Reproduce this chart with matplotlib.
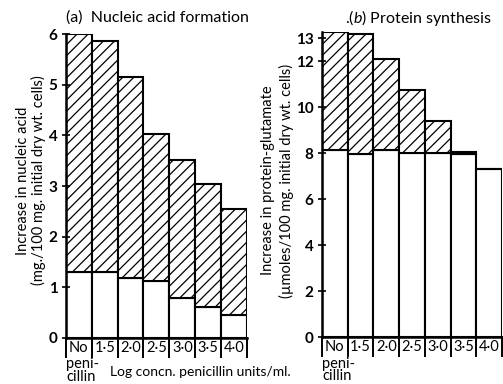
import matplotlib
matplotlib.use("Agg")
import matplotlib.pyplot as plt
import matplotlib.transforms as mtransforms

plt.rcParams['font.family'] = ['Lato', 'DejaVu Sans']
plt.rcParams['mathtext.fontset'] = 'custom'
plt.rcParams['mathtext.it'] = 'Lato:italic'
plt.rcParams['mathtext.rm'] = 'Lato'
plt.rcParams['hatch.linewidth'] = 0.9

# categories (log concn. penicillin units/ml.)
categorias = ["No", "1·5", "2·0", "2·5", "3·0", "3·5", "4·0"]

# (a) nucleic acid: total increase and the part left unhatched
acido_total = [6.0, 5.86, 5.15, 4.03, 3.52, 3.05, 2.55]
acido_base = [1.3, 1.3, 1.19, 1.13, 0.78, 0.61, 0.46]

# (b) protein-glutamate
proteina_total = [13.28, 13.2, 12.08, 10.75, 9.4, 8.07, 7.3]
proteina_base = [8.13, 7.95, 8.13, 8.0, 8.0, 7.95, 7.3]

fig = plt.figure(figsize=(5.03, 3.84), dpi=100)
ax1 = fig.add_axes([0.131, 0.12, 0.36, 0.791])
ax2 = fig.add_axes([0.640, 0.122, 0.358, 0.795])


def panel(ax, base, total, yticks):
    x = list(range(len(categorias)))
    arriba = [t - b for t, b in zip(total, base)]
    ax.bar(x, base, width=1.0, color="white", edgecolor="black", linewidth=1.5)
    ax.bar(x, arriba, bottom=base, width=1.0, color="white", edgecolor="black",
           linewidth=1.5, hatch="///")
    ax.set_xlim(-0.5, len(x) - 0.5)
    ax.set_ylim(0, max(total))
    ax.spines[["top", "right"]].set_visible(False)
    ax.spines[["left", "bottom"]].set_linewidth(1.8)
    ax.set_yticks(yticks)
    ax.tick_params(axis="y", direction="inout", length=6, width=1.2,
                   labelsize=11, pad=3)
    for lab in ax.get_yticklabels():
        lab.set_fontweight("bold")
    ax.set_xticks(x)
    ax.set_xticklabels(categorias, fontsize=10.5)
    ax.tick_params(axis="x", length=0, pad=2)
    # separators below the axis
    trans = mtransforms.blended_transform_factory(ax.transData, ax.transAxes)
    for k in range(len(x) + 1):
        ax.plot([k - 0.5, k - 0.5], [0, -0.062], color="black", lw=1.4,
                transform=trans, clip_on=False)
    ax.text(-0.48, -0.064, "peni-\ncillin", transform=trans, fontsize=10.5,
            ha="left", va="top", linespacing=0.88)


panel(ax1, acido_base, acido_total, [0, 1, 2, 3, 4, 5, 6])
panel(ax2, proteina_base, proteina_total, [0, 2, 4, 6, 8, 10, 12, 13])

fig.text(0.313, 0.955, "(a)  Nucleic acid formation", fontsize=11.5,
         ha="center", va="center")
fig.text(0.832, 0.953, r".($\it{b}$) Protein synthesis", fontsize=11.5,
         ha="center", va="center")

fig.text(0.045, 0.53, "Increase in nucleic acid", rotation=90, fontsize=10.5,
         ha="center", va="center")
fig.text(0.077, 0.53, "(mg./100 mg. initial dry wt. cells)", rotation=90,
         fontsize=10.5, ha="center", va="center")
fig.text(0.532, 0.53, "Increase in protein-glutamate", rotation=90,
         fontsize=10.5, ha="center", va="center")
fig.text(0.570, 0.53, "(µmoles/100 mg. initial dry wt. cells)", rotation=90,
         fontsize=10.5, ha="center", va="center")

fig.text(0.398, 0.03, "Log concn. penicillin units/ml.", fontsize=10,
         ha="center", va="center")

plt.savefig("out.png", dpi=100)
